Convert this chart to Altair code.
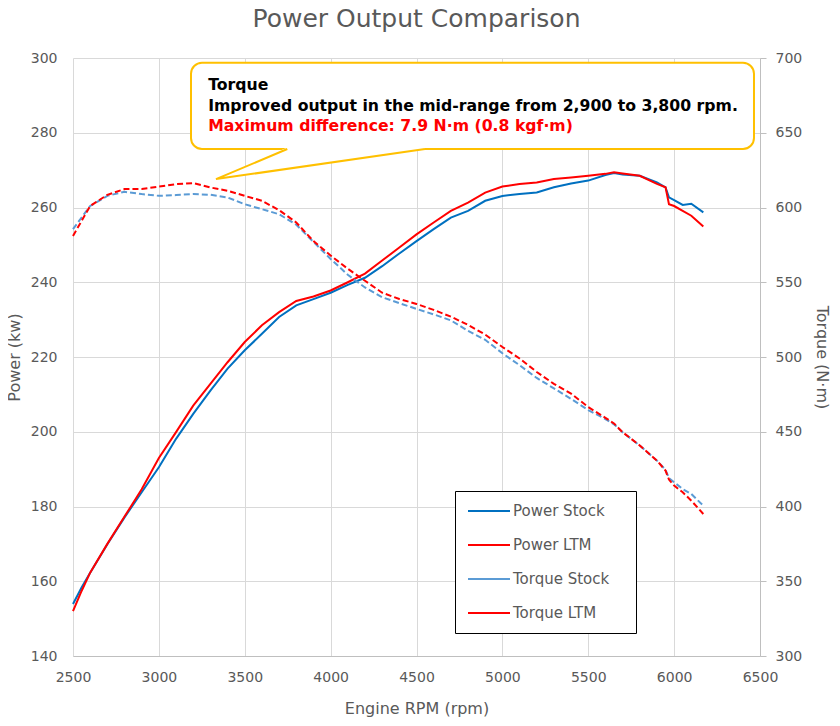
import altair as alt
import pandas as pd

# engine speed grid (rpm) and the four curves
rpm = [2500, 2550, 2600, 2700, 2800, 2900, 3000, 3100, 3200, 3300, 3400, 3500,
       3600, 3700, 3800, 3900, 4000, 4100, 4200, 4300, 4400, 4500, 4600, 4700,
       4800, 4900, 5000, 5100, 5200, 5300, 5400, 5500, 5600, 5650, 5700, 5800,
       5900, 5950, 5970, 6000, 6050, 6100, 6170]

power_stock = [153.9, 158.3, 162.3, 169.9, 177.1, 183.8, 190.5, 198.1, 204.8, 211.0,
               216.9, 221.8, 226.2, 230.7, 233.8, 235.5, 237.2, 239.3, 241.2, 244.3,
               247.7, 251.0, 254.2, 257.3, 259.1, 261.8, 263.1, 263.6, 264.0, 265.4,
               266.4, 267.2, 268.7, 269.2, 268.8, 268.5, 266.7, 265.4, 262.7, 262.0,
               260.7, 261.0, 258.7]

power_ltm = [152.0, 157.4, 162.3, 170.0, 177.3, 184.6, 193.0, 199.9, 207.0, 212.8,
             218.6, 224.0, 228.5, 232.0, 235.0, 236.2, 237.8, 240.0, 242.3, 245.8,
             249.3, 252.8, 256.0, 259.1, 261.3, 264.0, 265.6, 266.3, 266.7, 267.6,
             268.0, 268.5, 269.0, 269.4, 269.1, 268.5, 266.3, 265.4, 260.9, 260.4,
             259.1, 257.8, 254.9]

torque_stock = [585.5, 593.3, 601.0, 607.8, 610.5, 609.0, 607.8, 608.3, 609.0, 608.5,
                606.7, 602.2, 598.9, 595.5, 588.5, 577.0, 565.6, 555.0, 546.5, 540.0,
                536.0, 532.2, 528.5, 524.5, 517.5, 511.5, 502.5, 494.5, 486.0, 479.0,
                472.0, 464.5, 458.5, 455.0, 449.7, 440.8, 430.7, 424.5, 419.0, 416.2,
                411.7, 408.4, 400.5]

torque_ltm = [581.0, 591.0, 601.0, 608.5, 612.3, 612.3, 614.0, 615.6, 616.3, 613.4,
              611.2, 607.8, 604.5, 598.2, 590.0, 577.5, 567.9, 559.0, 551.0, 543.0,
              538.8, 535.5, 531.5, 527.0, 521.5, 515.0, 506.7, 499.0, 490.0, 482.0,
              475.5, 466.5, 459.3, 455.5, 449.7, 440.8, 430.7, 424.0, 418.0, 414.0,
              409.5, 403.9, 395.0]

series_names = ["Power Stock", "Power LTM", "Torque Stock", "Torque LTM"]
series_colors = ["#0070C0", "#FF0000", "#5B9BD5", "#FF0000"]

callout_lines = ["Torque",
                 "Improved output in the mid-range from 2,900 to 3,800 rpm.",
                 "Maximum difference: 7.9 N·m (0.8 kgf·m)"]

FONT = "DejaVu Sans"
GREY = "#595959"
GOLD = "#FFC000"


def long_df(values, name):
    return pd.DataFrame({"rpm": rpm, "value": values, "series": name})


power = pd.concat([long_df(power_stock, "Power Stock"), long_df(power_ltm, "Power LTM")])
torque = pd.concat([long_df(torque_stock, "Torque Stock"), long_df(torque_ltm, "Torque LTM")])

# callout box placed in data units (rpm / kW) so it goes through the scales
box = pd.DataFrame({"x": [3187], "x2": [6465], "y": [298.7], "y2": [275.65]})
wedge_fill = pd.DataFrame({"x": [3332.6, 3747.7, 4549.5],
                           "y": [267.6, 276.05, 276.05],
                           "y2": [267.6, 270.35, 275.65]})
wedge_edge = pd.DataFrame({"x": [3747.7, 3332.6, 4549.5],
                           "y": [275.65, 267.6, 275.65],
                           "k": [0, 1, 2]})
text_black = pd.DataFrame({"x": [3287, 3287], "y": [291.44, 285.95], "t": callout_lines[:2]})
text_red = pd.DataFrame({"x": [3287], "y": [280.47], "t": callout_lines[2:]})

x_scale = alt.Scale(domain=[2500, 6500], nice=False, zero=False)
x_axis = alt.Axis(values=list(range(2500, 6501, 500)), format="d", grid=True,
                  gridColor="#D9D9D9", domainColor="#BFBFBF", ticks=False, tickSize=0,
                  labelPadding=14, labelFlush=False, title="Engine RPM (rpm)",
                  titlePadding=16)
p_scale = alt.Scale(domain=[140, 300], nice=False, zero=False)
p_axis = alt.Axis(orient="left", values=list(range(140, 301, 20)), grid=True,
                  gridColor="#D9D9D9", domain=False, ticks=False, tickSize=0,
                  labelPadding=16, labelFlush=False, title="Power (kw)", titlePadding=8)
t_scale = alt.Scale(domain=[300, 700], nice=False, zero=False)
t_axis = alt.Axis(orient="right", values=list(range(300, 701, 50)), grid=False,
                  domainColor="#BFBFBF", tickColor="#BFBFBF", tickSize=6,
                  labelPadding=9, labelFlush=False, title="Torque (N·m)", titlePadding=12)

# wide flat symbol: a short path scaled up, so the rows stay as tall as the text;
# an invisible title on the right only widens the box
legend = alt.Legend(orient="none", legendX=382, legendY=433, title=".",
                    titleOrient="right", titleColor="white", titleFontSize=15,
                    titlePadding=10,
                    symbolType="M-3,0H3", symbolSize=196, symbolStrokeWidth=2,
                    symbolOffset=14, symbolDash=[1, 0], labelFontSize=15,
                    labelColor=GREY, labelFont=FONT, labelOffset=16, rowPadding=18,
                    padding=12, fillColor="white", strokeColor="#000000")
color = alt.Color("series:N", scale=alt.Scale(domain=series_names, range=series_colors),
                  legend=legend)

X = alt.X("rpm:Q", scale=x_scale, axis=x_axis)
Xc = alt.X("x:Q", scale=x_scale, axis=x_axis)
Yc = alt.Y("y:Q", scale=p_scale, axis=p_axis)

power_lines = alt.Chart(power).mark_line(strokeWidth=2).encode(
    x=X, y=alt.Y("value:Q", scale=p_scale, axis=p_axis), color=color, detail="series:N")

torque_lines = alt.Chart(torque).mark_line(strokeWidth=2, strokeDash=[6, 3]).encode(
    x=X, y=alt.Y("value:Q", scale=t_scale, axis=t_axis), color=color, detail="series:N")

box_mark = alt.Chart(box).mark_rect(fill="white", stroke=GOLD, strokeWidth=2,
                                    cornerRadius=11).encode(x=Xc, x2="x2:Q", y=Yc, y2="y2:Q")
wedge_mark = alt.Chart(wedge_fill).mark_area(color="white", opacity=1).encode(
    x=Xc, y=Yc, y2="y2:Q")
edge_mark = alt.Chart(wedge_edge).mark_line(color=GOLD, strokeWidth=2, strokeJoin="miter").encode(
    x=Xc, y=Yc, order="k:Q")
black_txt = alt.Chart(text_black).mark_text(
    align="left", baseline="alphabetic", font=FONT, fontSize=15.7, fontWeight="bold",
    color="#000000").encode(x=Xc, y=Yc, text="t:N")
red_txt = alt.Chart(text_red).mark_text(
    align="left", baseline="alphabetic", font=FONT, fontSize=15.7, fontWeight="bold",
    color="#FF0000").encode(x=Xc, y=Yc, text="t:N")

left_group = alt.layer(power_lines, box_mark, wedge_mark, edge_mark, black_txt, red_txt)

chart = alt.layer(left_group, torque_lines).resolve_scale(y="independent").properties(
    width=687, height=598,
    autosize=alt.AutoSizeParams(type="none"),
    padding={"left": 65, "top": 50, "right": 72, "bottom": 62},
    title=alt.TitleParams("Power Output Comparison", font=FONT, fontSize=25,
                          fontWeight="normal", color=GREY, anchor="middle",
                          frame="group", offset=19),
).configure_view(stroke=None).configure_axis(
    labelFont=FONT, labelFontSize=14, labelColor=GREY,
    titleFont=FONT, titleFontSize=16, titleFontWeight="normal", titleColor=GREY,
)

chart.save("out.html", embed_options={"renderer": "svg", "actions": False})
